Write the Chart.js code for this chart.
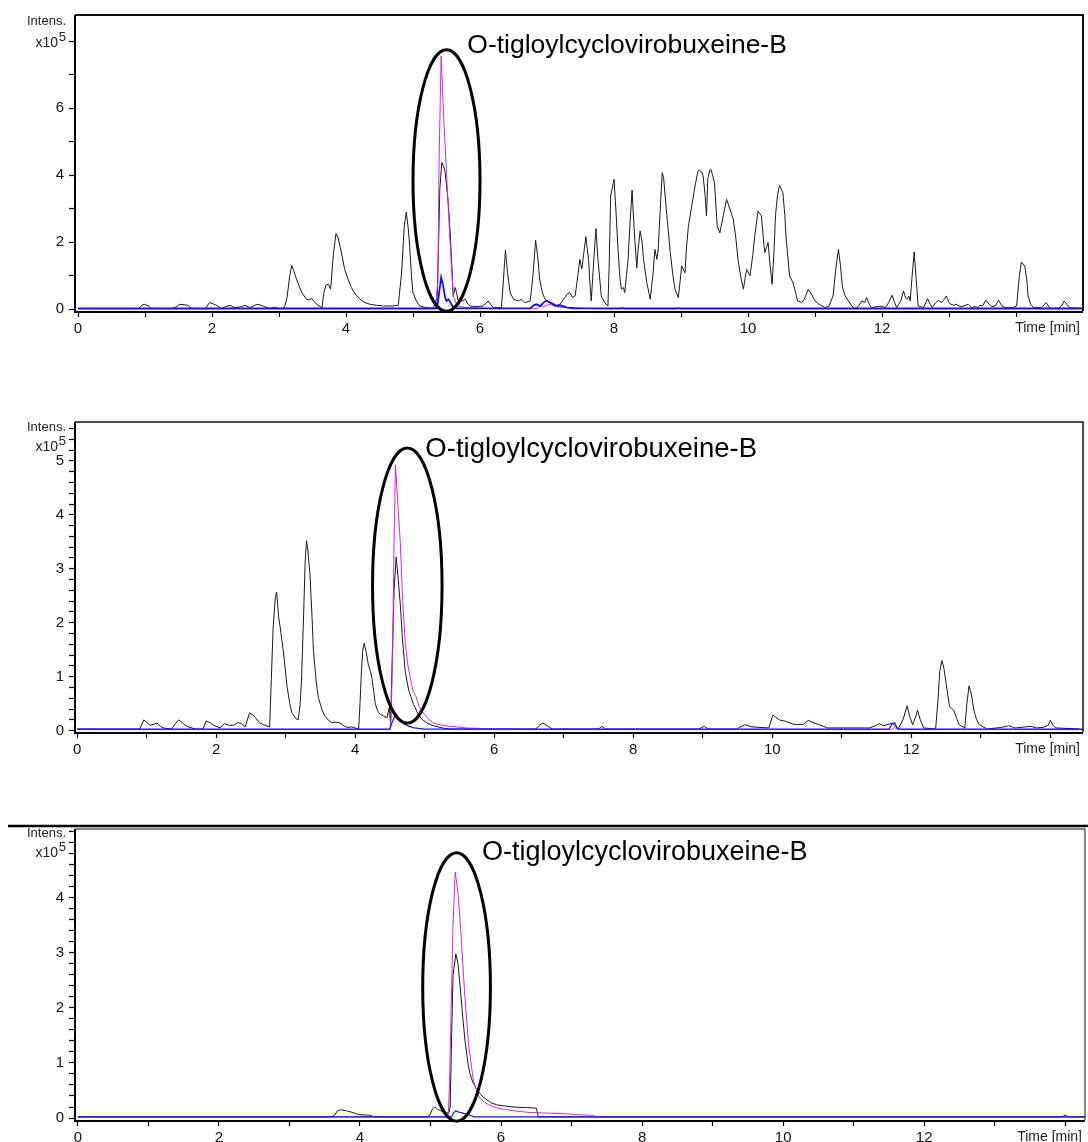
<!DOCTYPE html>
<html>
<head>
<meta charset="utf-8">
<title>Chromatograms – O-tigloylcyclovirobuxeine-B</title>
<script src="https://cdn.jsdelivr.net/npm/chart.js@4.4.1/dist/chart.umd.min.js"></script>
<style>
  html, body { margin: 0; padding: 0; background: #fff; }
  body { width: 1088px; height: 1142px; position: relative; overflow: hidden; }
  .panel { position: absolute; left: 0; width: 1088px; }
  #wrap1 { top: 0;     height: 345px; }
  #wrap2 { top: 400px; height: 365px; }
  #wrap3 { top: 805px; height: 337px; }
</style>
</head>
<body>
<div class="panel" id="wrap1"><canvas id="chart1"></canvas></div>
<div class="panel" id="wrap2"><canvas id="chart2"></canvas></div>
<div class="panel" id="wrap3"><canvas id="chart3"></canvas></div>

<script>
/* =======================================================
   Three LC-MS chromatograms, intensity in units of 1e5.
   Each run: base peak trace (black) + two extracted ion
   traces (magenta, blue). Points are [time min, intensity].
======================================================= */

const COMPOUND = 'O-tigloylcyclovirobuxeine-B';

/* -------------------------------------------------------
   1. DATA – run 1 (top)
------------------------------------------------------- */
const bpc1 = [
  [0,0.02],[0.9,0.02],[0.95,0.12],[0.99,0.15],[1.05,0.1],[1.1,0.02],[1.4,0.02],[1.45,0.06],[1.52,0.15],
  [1.6,0.13],[1.64,0.12],[1.7,0.02],[1.9,0.02],[1.96,0.2],[2.02,0.16],[2.07,0.12],[2.14,0.03],[2.2,0.08],
  [2.27,0.12],[2.34,0.05],[2.42,0.07],[2.49,0.12],[2.57,0.05],[2.62,0.1],[2.67,0.15],[2.72,0.13],[2.76,0.1],
  [2.82,0.05],[2.87,0.03],[2.94,0.06],[3.01,0.01],[3.08,0.05],[3.12,0.35],[3.16,1.0],[3.19,1.31],[3.22,1.15],
  [3.26,0.9],[3.3,0.7],[3.34,0.5],[3.41,0.3],[3.45,0.28],[3.49,0.32],[3.56,0.15],[3.64,0.05],[3.67,0.5],
  [3.7,0.72],[3.74,0.75],[3.77,0.6],[3.81,1.6],[3.85,2.26],[3.88,2.15],[3.91,1.88],[3.95,1.5],[3.98,1.19],
  [4.03,0.9],[4.08,0.65],[4.14,0.45],[4.21,0.3],[4.28,0.2],[4.36,0.15],[4.46,0.12],[4.56,0.1],[4.7,0.1],
  [4.78,0.12],[4.83,1.09],[4.87,2.5],[4.9,2.9],[4.93,2.4],[4.95,1.88],[4.98,0.9],[5.0,0.5],[5.05,0.25],
  [5.1,0.1],[5.2,0.05],[5.3,0.03],[5.36,0.3],[5.38,1.8],[5.4,3.58],[5.43,4.38],[5.46,4.25],[5.48,4.08],
  [5.5,3.7],[5.53,3.09],[5.56,2.1],[5.58,1.29],[5.6,0.4],[5.63,0.65],[5.65,0.5],[5.68,0.2],[5.73,0.25],
  [5.78,0.3],[5.82,0.15],[5.85,0.1],[5.95,0.08],[6.05,0.1],[6.12,0.25],[6.16,0.15],[6.2,0.05],[6.32,0.05],
  [6.35,0.9],[6.38,1.77],[6.41,1.1],[6.45,0.5],[6.5,0.3],[6.57,0.25],[6.62,0.3],[6.67,0.2],[6.75,0.25],
  [6.79,1.0],[6.83,2.06],[6.86,1.6],[6.89,0.9],[6.93,0.5],[6.97,0.3],[7.07,0.15],[7.12,0.1],[7.19,0.15],
  [7.25,0.3],[7.3,0.45],[7.34,0.5],[7.38,0.35],[7.42,0.4],[7.46,1.0],[7.49,1.49],[7.52,1.2],[7.55,1.7],
  [7.58,2.17],[7.6,1.8],[7.62,1.49],[7.64,0.8],[7.66,0.25],[7.69,1.2],[7.73,2.41],[7.76,1.5],[7.81,0.4],
  [7.86,0.2],[7.91,0.1],[7.93,1.5],[7.95,3.38],[8.0,3.88],[8.03,2.9],[8.06,1.79],[8.09,0.9],[8.11,0.6],
  [8.14,0.65],[8.16,0.5],[8.21,1.49],[8.24,2.6],[8.27,3.56],[8.3,2.4],[8.34,1.24],[8.36,1.8],[8.39,2.34],
  [8.42,2.0],[8.44,1.49],[8.49,0.8],[8.54,0.3],[8.58,1.0],[8.61,1.79],[8.64,1.49],[8.66,1.8],[8.69,3.0],
  [8.72,4.08],[8.74,3.93],[8.78,3.0],[8.84,1.69],[8.88,1.0],[8.91,0.6],[8.96,0.35],[8.99,0.9],[9.01,1.29],
  [9.06,1.09],[9.08,1.8],[9.11,2.48],[9.16,3.08],[9.21,3.68],[9.25,4.1],[9.27,4.16],[9.31,4.1],[9.33,3.98],
  [9.36,3.4],[9.38,2.79],[9.4,3.88],[9.43,4.16],[9.45,4.16],[9.5,3.78],[9.54,2.48],[9.58,2.28],[9.63,2.79],
  [9.68,3.28],[9.73,2.99],[9.78,2.69],[9.82,2.1],[9.85,1.49],[9.89,1.0],[9.93,0.6],[9.98,1.19],[10.03,1.0],
  [10.07,1.6],[10.1,2.18],[10.15,2.93],[10.2,2.79],[10.23,2.1],[10.25,1.69],[10.3,1.99],[10.33,1.3],
  [10.36,0.75],[10.39,1.8],[10.41,2.79],[10.44,3.4],[10.47,3.7],[10.52,3.48],[10.55,2.8],[10.57,2.09],
  [10.62,1.0],[10.67,0.8],[10.71,0.5],[10.74,0.25],[10.8,0.2],[10.84,0.3],[10.9,0.6],[10.96,0.4],[11.0,0.25],
  [11.06,0.15],[11.15,0.05],[11.21,0.1],[11.27,0.4],[11.31,1.2],[11.35,1.79],[11.38,1.3],[11.41,0.65],
  [11.45,0.4],[11.5,0.25],[11.55,0.1],[11.6,0.02],[11.65,0.1],[11.7,0.25],[11.74,0.2],[11.77,0.35],[11.8,0.2],
  [11.84,0.05],[11.92,0.08],[11.97,0.1],[12.05,0.05],[12.1,0.2],[12.15,0.42],[12.19,0.2],[12.22,0.05],
  [12.28,0.25],[12.32,0.55],[12.35,0.35],[12.37,0.3],[12.4,0.4],[12.42,0.25],[12.45,1.0],[12.48,1.71],
  [12.51,0.9],[12.54,0.1],[12.62,0.05],[12.68,0.32],[12.72,0.15],[12.75,0.05],[12.8,0.2],[12.84,0.27],
  [12.89,0.2],[12.93,0.3],[12.96,0.4],[13.0,0.2],[13.03,0.15],[13.07,0.12],[13.11,0.15],[13.15,0.1],
  [13.19,0.08],[13.24,0.12],[13.29,0.15],[13.34,0.05],[13.39,0.08],[13.43,0.05],[13.46,0.12],[13.5,0.1],
  [13.55,0.27],[13.6,0.15],[13.64,0.08],[13.69,0.1],[13.74,0.27],[13.79,0.1],[13.84,0.05],[13.95,0.05],
  [14.01,0.1],[14.05,1.0],[14.08,1.41],[14.13,1.29],[14.16,0.9],[14.18,0.4],[14.22,0.15],[14.26,0.05],
  [14.38,0.05],[14.45,0.2],[14.5,0.05],[14.53,0.03],[14.63,0.03],[14.68,0.1],[14.72,0.25],[14.76,0.15],
  [14.8,0.05],[14.96,0.03]
];
const eicMagenta1 = [
  [0,0.01],[5.33,0.01],[5.37,0.8],[5.39,4.5],[5.42,7.56],[5.45,6.07],[5.5,4.08],[5.55,2.09],[5.6,0.4],
  [5.65,0.15],[5.7,0.08],[5.8,0.05],[5.9,0.06],[6.0,0.03],[6.2,0.02],[6.85,0.02],[6.9,0.1],[6.95,0.08],
  [7.0,0.12],[7.05,0.15],[7.1,0.1],[7.15,0.08],[7.25,0.05],[7.35,0.06],[7.45,0.04],[7.6,0.02],[8.08,0.01],
  [8.12,0.06],[8.16,0.01],[8.93,0.01],[8.96,0.05],[8.99,0.01],[15,0.01]
];
const eicBlue1 = [
  [0,0.03],[5.36,0.03],[5.39,0.5],[5.42,0.95],[5.45,0.7],[5.48,0.35],[5.5,0.25],[5.53,0.3],[5.56,0.2],
  [5.6,0.05],[5.65,0.03],[6.75,0.03],[6.8,0.12],[6.84,0.15],[6.9,0.1],[6.96,0.22],[7.0,0.25],[7.05,0.2],
  [7.1,0.15],[7.15,0.1],[7.2,0.12],[7.3,0.05],[7.4,0.03],[15,0.03]
];

/* -------------------------------------------------------
   2. DATA – run 2 (middle)
------------------------------------------------------- */
const bpc2 = [
  [0,0.03],[0.9,0.03],[0.96,0.2],[1.0,0.15],[1.05,0.1],[1.1,0.12],[1.15,0.14],[1.2,0.08],[1.24,0.05],
  [1.36,0.03],[1.41,0.12],[1.46,0.2],[1.52,0.14],[1.58,0.08],[1.7,0.03],[1.81,0.03],[1.86,0.18],[1.91,0.15],
  [1.96,0.1],[2.06,0.05],[2.12,0.13],[2.18,0.1],[2.25,0.1],[2.32,0.15],[2.37,0.12],[2.42,0.07],[2.48,0.33],
  [2.52,0.3],[2.56,0.25],[2.62,0.15],[2.68,0.11],[2.77,0.07],[2.79,0.8],[2.82,1.9],[2.85,2.45],[2.87,2.57],
  [2.9,2.1],[2.92,1.93],[2.97,1.44],[3.02,0.82],[3.06,0.5],[3.09,0.33],[3.15,0.22],[3.18,0.2],[3.21,0.5],
  [3.23,1.0],[3.26,2.2],[3.28,3.1],[3.3,3.52],[3.32,3.35],[3.35,2.9],[3.38,2.1],[3.4,1.48],[3.44,0.9],
  [3.47,0.62],[3.52,0.4],[3.56,0.28],[3.61,0.2],[3.66,0.15],[3.72,0.16],[3.78,0.14],[3.83,0.1],[3.88,0.06],
  [3.95,0.07],[4.02,0.04],[4.05,0.03],[4.07,0.5],[4.09,1.1],[4.11,1.5],[4.13,1.62],[4.16,1.45],[4.19,1.22],
  [4.22,1.1],[4.24,0.98],[4.27,0.7],[4.29,0.49],[4.33,0.35],[4.36,0.3],[4.41,0.27],[4.46,0.24],[4.49,0.43],
  [4.51,0.12],[4.53,1.2],[4.56,2.6],[4.59,3.22],[4.62,2.8],[4.65,2.33],[4.68,1.7],[4.72,1.1],[4.77,0.75],
  [4.84,0.49],[4.9,0.32],[4.96,0.21],[5.05,0.13],[5.13,0.09],[5.25,0.05],[5.37,0.03],[6.6,0.03],[6.65,0.1],
  [6.7,0.14],[6.75,0.1],[6.84,0.03],[7.5,0.03],[7.55,0.08],[7.6,0.03],[8.95,0.03],[9.02,0.08],[9.08,0.03],
  [9.5,0.03],[9.55,0.08],[9.61,0.11],[9.7,0.07],[9.95,0.05],[10.01,0.29],[10.05,0.25],[10.1,0.2],[10.2,0.17],
  [10.3,0.12],[10.36,0.11],[10.45,0.12],[10.52,0.19],[10.6,0.14],[10.68,0.11],[10.79,0.05],[11.4,0.05],
  [11.5,0.1],[11.54,0.13],[11.6,0.09],[11.65,0.11],[11.73,0.14],[11.81,0.03],[11.88,0.2],[11.94,0.46],
  [11.98,0.25],[12.02,0.11],[12.06,0.25],[12.09,0.38],[12.13,0.2],[12.18,0.05],[12.35,0.03],[12.38,0.5],
  [12.41,1.1],[12.44,1.3],[12.47,1.15],[12.5,0.88],[12.55,0.45],[12.61,0.38],[12.66,0.2],[12.69,0.11],
  [12.77,0.05],[12.8,0.5],[12.83,0.83],[12.86,0.7],[12.9,0.38],[12.94,0.2],[12.98,0.11],[13.09,0.03],
  [13.3,0.06],[13.4,0.09],[13.5,0.05],[13.65,0.07],[13.72,0.08],[13.8,0.05],[13.9,0.06],[13.97,0.1],
  [14.0,0.19],[14.04,0.1],[14.08,0.05],[14.42,0.03]
];
const eicMagenta2 = [
  [0,0.02],[4.5,0.02],[4.52,0.3],[4.54,1.5],[4.56,3.5],[4.58,4.92],[4.61,4.3],[4.65,3.47],[4.68,2.5],
  [4.72,1.62],[4.76,1.2],[4.79,1.0],[4.83,0.75],[4.87,0.65],[4.92,0.45],[4.98,0.33],[5.05,0.22],[5.13,0.14],
  [5.25,0.1],[5.37,0.08],[5.6,0.05],[5.8,0.04],[6.0,0.03],[6.3,0.03],[6.4,0.02],[11.72,0.02],[11.76,0.06],
  [11.8,0.02],[14.47,0.02]
];
const eicBlue2 = [
  [0,0.03],[4.5,0.03],[4.53,0.15],[4.58,0.3],[4.62,0.22],[4.7,0.13],[4.78,0.08],[4.85,0.05],[5.0,0.03],
  [11.68,0.03],[11.72,0.12],[11.76,0.15],[11.8,0.04],[11.85,0.03],[14.47,0.03]
];

/* -------------------------------------------------------
   3. DATA – run 3 (bottom)
------------------------------------------------------- */
const bpc3 = [
  [0,0.02],[3.6,0.02],[3.64,0.05],[3.68,0.13],[3.72,0.15],[3.81,0.13],[3.9,0.1],[3.98,0.06],[4.14,0.05],
  [4.2,0.02],[4.95,0.02],[4.99,0.05],[5.03,0.17],[5.06,0.2],[5.1,0.16],[5.13,0.14],[5.2,0.1],[5.26,0.09],
  [5.28,0.2],[5.3,1.5],[5.32,2.6],[5.36,2.98],[5.39,2.8],[5.42,2.4],[5.46,1.8],[5.49,1.4],[5.53,1.0],
  [5.56,0.81],[5.6,0.65],[5.66,0.51],[5.73,0.4],[5.8,0.33],[5.87,0.27],[5.94,0.24],[6.05,0.22],[6.17,0.2],
  [6.35,0.19],[6.5,0.18],[6.53,0.02],[13.95,0.02],[14.0,0.05],[14.05,0.02],[14.28,0.02]
];
const eicMagenta3 = [
  [0,0.02],[5.25,0.02],[5.27,0.6],[5.29,1.8],[5.32,3.5],[5.35,4.47],[5.38,4.2],[5.4,3.95],[5.44,3.2],
  [5.47,2.55],[5.5,2.0],[5.54,1.34],[5.58,0.95],[5.61,0.67],[5.66,0.48],[5.7,0.36],[5.77,0.28],[5.84,0.23],
  [5.95,0.18],[6.08,0.15],[6.25,0.12],[6.41,0.1],[6.65,0.09],[6.88,0.08],[7.1,0.06],[7.3,0.05],[7.36,0.02],
  [14.28,0.02]
];
const eicBlue3 = [
  [0,0.02],[5.3,0.02],[5.33,0.1],[5.36,0.13],[5.4,0.11],[5.46,0.09],[5.56,0.05],[5.62,0.02],[14.28,0.02]
];

/* -------------------------------------------------------
   4. AXIS TICKS
------------------------------------------------------- */
const timeTicks  = [0,1,2,3,4,5,6,7,8,9,10,11,12,13,14];
const timeLabels = [0,2,4,6,8,10,12];          // 14 gives way to "Time [min]"

const intensTicks1  = [0,1,2,3,4,5,6,7,8];
const intensLabels1 = [0,2,4,6];                // 8 gives way to "x10^5"

const intensTicks2  = [0,0.2,0.4,0.6,0.8,1,1.2,1.4,1.6,1.8,2,2.2,2.4,2.6,2.8,3,3.2,3.4,3.6,3.8,
                       4,4.2,4.4,4.6,4.8,5,5.2,5.4,5.6];
const intensLabels2 = [0,1,2,3,4,5];

const intensTicks3  = [0,0.2,0.4,0.6,0.8,1,1.2,1.4,1.6,1.8,2,2.2,2.4,2.6,2.8,3,3.2,3.4,3.6,3.8,
                       4,4.2,4.4,4.6,4.8,5,5.2];
const intensLabels3 = [0,1,2,3,4];

/* -------------------------------------------------------
   5. DECORATION PLUGIN
   Frame, "Intens. x10^5", "Time [min]", ellipse, name.
------------------------------------------------------- */
const FONT = '"Liberation Sans", Arial, sans-serif';

const decorPlugin = {
  id: 'decor',
  afterDraw(chart, args, o) {
    const { ctx, chartArea: a, scales: { x, y } } = chart;
    ctx.save();

    // thin top / right frame
    ctx.strokeStyle = '#111';
    ctx.lineWidth = o.frameWidth;
    ctx.beginPath();
    ctx.moveTo(a.left, a.top);
    ctx.lineTo(a.right, a.top);
    ctx.lineTo(a.right, a.bottom);
    ctx.stroke();

    // heavy left / bottom axes
    ctx.strokeStyle = '#000';
    ctx.lineWidth = 2;
    ctx.beginPath();
    ctx.moveTo(a.left, a.top);
    ctx.lineTo(a.left, a.bottom + 1);
    ctx.lineTo(a.right, a.bottom + 1);
    ctx.stroke();

    if (o.topRule) {
      ctx.lineWidth = 2.5;
      ctx.beginPath();
      ctx.moveTo(8, a.top - 3);
      ctx.lineTo(chart.width, a.top - 3);
      ctx.stroke();
    }

    // axis captions
    ctx.fillStyle = '#222';
    ctx.textAlign = 'right';
    ctx.textBaseline = 'middle';
    ctx.font = '13px ' + FONT;
    ctx.fillText('Intens.', a.left - 9, a.top + o.intensDy);
    ctx.font = '14px ' + FONT;
    ctx.fillText('x10', a.left - 17, a.top + o.expDy);
    ctx.font = '13px ' + FONT;
    ctx.fillText('5', a.left - 9, a.top + o.expDy - 6);
    ctx.font = '14px ' + FONT;
    ctx.fillText('Time [min]', a.right - 3, a.bottom + 17);

    // peak ellipse
    const cx = x.getPixelForValue(o.ellipse.t);
    const cy = y.getPixelForValue(o.ellipse.v);
    const rx = Math.abs(x.getPixelForValue(o.ellipse.t + o.ellipse.dt) - cx);
    const ry = Math.abs(y.getPixelForValue(o.ellipse.v + o.ellipse.dv) - cy);
    ctx.strokeStyle = '#000';
    ctx.lineWidth = 3;
    ctx.beginPath();
    ctx.ellipse(cx, cy, rx, ry, 0, 0, Math.PI * 2);
    ctx.stroke();

    // compound name
    ctx.fillStyle = '#000';
    ctx.textAlign = 'left';
    ctx.font = o.labelSize + 'px ' + FONT;
    ctx.fillText(COMPOUND, x.getPixelForValue(o.label.t), y.getPixelForValue(o.label.v));

    ctx.restore();
  }
};

/* -------------------------------------------------------
   6. CHART BUILDER
------------------------------------------------------- */
function trace(points, color, width, order) {
  return {
    data: points.map(([t, v]) => ({ x: t, y: v })),
    showLine: true,
    pointRadius: 0,
    borderColor: color,
    borderWidth: width,
    tension: 0,
    order: order
  };
}

function axisStyle(labels, ticks, fit, pad) {
  return {
    type: 'linear',
    afterBuildTicks: axis => { axis.ticks = ticks.map(v => ({ value: v })); },
    afterFit: fit,
    border: { display: false },
    grid: {
      drawOnChartArea: false,
      drawTicks: true,
      tickLength: 6,
      tickColor: '#000',
      tickWidth: 1.2
    },
    ticks: {
      autoSkip: false,
      maxRotation: 0,
      padding: pad,
      color: '#111',
      font: { family: FONT, size: 15 },
      callback: v => (labels.includes(v) ? String(v) : '')
    }
  };
}

function buildPanel(canvasId, p) {
  const xAxis = axisStyle(timeLabels, timeTicks, a => { a.height = p.xAxisHeight; }, 3);
  xAxis.min = p.tMin; xAxis.max = p.tMax;
  const yAxis = axisStyle(p.yLabels, p.yTicks, a => { a.width = 75; }, 5);
  yAxis.min = p.vMin; yAxis.max = p.vMax;

  new Chart(document.getElementById(canvasId), {
    type: 'scatter',
    data: {
      datasets: [
        trace(p.blue,    '#1010ff', p.blueWidth, 0),
        trace(p.magenta, '#e020e0', 1,           1),
        trace(p.black,   '#1a1a1a', 1,           2)
      ]
    },
    options: {
      responsive: true,
      maintainAspectRatio: false,
      animation: false,
      layout: { padding: { top: p.padTop, right: p.padRight, left: 0, bottom: 0 } },
      plugins: {
        legend: { display: false },
        tooltip: { enabled: false },
        decor: p.decor
      },
      scales: { x: xAxis, y: yAxis }
    },
    plugins: [decorPlugin]
  });
}

/* -------------------------------------------------------
   7. INIT
------------------------------------------------------- */
buildPanel('chart1', {
  black: bpc1, magenta: eicMagenta1, blue: eicBlue1, blueWidth: 1.8,
  yTicks: intensTicks1, yLabels: intensLabels1,
  tMin: -0.045, tMax: 15.0, vMin: -0.05, vMax: 8.78,
  padTop: 15, padRight: 5, xAxisHeight: 34,
  decor: {
    frameWidth: 2, intensDy: 6, expDy: 28, labelSize: 26.5,
    ellipse: { t: 5.5, v: 3.84, dt: 0.5, dv: 3.9 },
    label: { t: 5.81, v: 7.86 }
  }
});

buildPanel('chart2', {
  black: bpc2, magenta: eicMagenta2, blue: eicBlue2, blueWidth: 1.2,
  yTicks: intensTicks2, yLabels: intensLabels2,
  tMin: -0.03, tMax: 14.47, vMin: -0.025, vMax: 5.72,
  padTop: 22, padRight: 5, xAxisHeight: 33,
  decor: {
    frameWidth: 1.5, intensDy: 5, expDy: 25, labelSize: 27.5,
    ellipse: { t: 4.75, v: 2.69, dt: 0.5, dv: 2.55 },
    label: { t: 5.01, v: 5.22 }
  }
});

buildPanel('chart3', {
  black: bpc3, magenta: eicMagenta3, blue: eicBlue3, blueWidth: 1.2,
  yTicks: intensTicks3, yLabels: intensLabels3,
  tMin: -0.04, tMax: 14.28, vMin: -0.036, vMax: 5.25,
  padTop: 24, padRight: 3, xAxisHeight: 22,
  decor: {
    frameWidth: 1, intensDy: 4, expDy: 24, topRule: true, labelSize: 27,
    ellipse: { t: 5.37, v: 2.38, dt: 0.48, dv: 2.44 },
    label: { t: 5.73, v: 4.82 }
  }
});
</script>
</body>
</html>
